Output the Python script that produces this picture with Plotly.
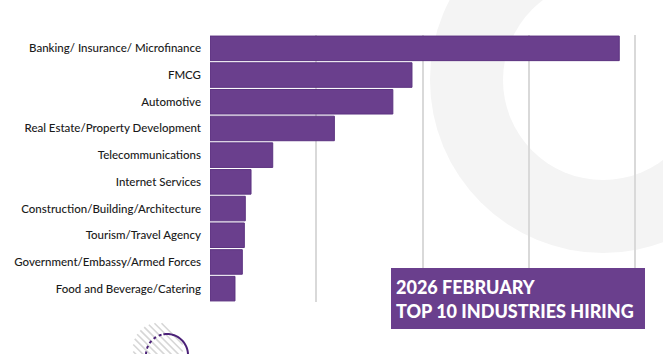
import math
import plotly.graph_objects as go

industries = [
    "Banking/ Insurance/ Microfinance",
    "FMCG",
    "Automotive",
    "Real Estate/Property Development",
    "Telecommunications",
    "Internet Services",
    "Construction/Building/Architecture",
    "Tourism/Travel Agency",
    "Government/Embassy/Armed Forces",
    "Food and Beverage/Catering",
]
hires = [385, 190, 172, 117, 59, 38.6, 33.2, 32.3, 30.4, 23.5]
title_lines = ["2026 FEBRUARY", "TOP 10 INDUSTRIES HIRING"]

W, H = 663, 354
L, R, T, B = 210, 0, 35, 52
PW, PH = W - L - R, H - T - B
PURPLE = "#6a3f8d"


def px(x):
    return (x - L) / PW


def py(y):
    return (H - B - y) / PH


fig = go.Figure(go.Bar(
    x=hires, y=industries, orientation="h",
    marker=dict(color=PURPLE, line=dict(color="#5c3380", width=1)),
    hoverinfo="skip",
))

shapes = []
# decorative ring (top right)
shapes.append(dict(type="circle", xref="paper", yref="paper", layer="below",
                   x0=px(430), x1=px(776), y0=py(253), y1=py(-93),
                   fillcolor="#f4f4f4", line=dict(width=0)))
shapes.append(dict(type="circle", xref="paper", yref="paper", layer="below",
                   x0=px(503), x1=px(703), y0=py(180), y1=py(-20),
                   fillcolor="white", line=dict(width=0)))
# hatched circle bottom left
hcx, hcy, hr = 158, 348, 25
for k in range(-9, 10):
    c = k * 5.0
    if abs(c) >= hr:
        continue
    half = math.sqrt(hr * hr - c * c)
    nx, ny = 1 / math.sqrt(2), -1 / math.sqrt(2)
    dx, dy = 1 / math.sqrt(2), 1 / math.sqrt(2)
    x0 = hcx + nx * c - dx * half
    y0 = hcy + ny * c - dy * half
    x1 = hcx + nx * c + dx * half
    y1 = hcy + ny * c + dy * half
    shapes.append(dict(type="line", xref="paper", yref="paper", layer="below",
                       x0=px(x0), y0=py(y0), x1=px(x1), y1=py(y1),
                       line=dict(color="#d6d6d6", width=1.6)))
# purple circle: dotted left part, solid right part
pcx, pcy, pr = 167, 355, 21
pts_dot = []
for i in range(0, 61):
    a = math.radians(90 + i * 1.5 + 15)
    pts_dot.append((pcx + pr * math.cos(a), pcy - pr * math.sin(a)))
path = "M " + " L ".join(f"{px(x):.5f},{py(y):.5f}" for x, y in pts_dot)
shapes.append(dict(type="path", xref="paper", yref="paper", path=path,
                   line=dict(color="#4b2178", width=2, dash="dot")))
pts_sol = []
for i in range(0, 41):
    a = math.radians(-20 + i * 3.0)
    pts_sol.append((pcx + pr * math.cos(a), pcy - pr * math.sin(a)))
path = "M " + " L ".join(f"{px(x):.5f},{py(y):.5f}" for x, y in pts_sol)
shapes.append(dict(type="path", xref="paper", yref="paper", path=path,
                   line=dict(color="#4b2178", width=2)))
# title box
shapes.append(dict(type="rect", xref="paper", yref="paper", layer="above",
                   x0=px(391), x1=px(645), y0=py(329), y1=py(268),
                   fillcolor=PURPLE, line=dict(width=0)))

annotations = [
    dict(text=title_lines[0], xref="paper", yref="paper",
         x=px(394), y=py(287), xanchor="left", yanchor="middle", showarrow=False,
         font=dict(family="Lato", size=18, color="white", weight=900)),
    dict(text=title_lines[1], xref="paper", yref="paper",
         x=px(394), y=py(311), xanchor="left", yanchor="middle", showarrow=False,
         font=dict(family="Lato", size=18, color="white", weight=900)),
]

fig.update_layout(
    width=W, height=H, margin=dict(l=L, r=R, t=T, b=B),
    paper_bgcolor="white", plot_bgcolor="rgba(0,0,0,0)",
    showlegend=False, bargap=0.08,
    shapes=shapes, annotations=annotations,
    font=dict(family="Lato", size=12, color="#1a1a1a"),
)
fig.update_xaxes(range=[0, PW / 1.063], tickvals=[100, 200, 300, 400],
                 showticklabels=False, showgrid=True, gridcolor="#d9d9d9",
                 gridwidth=1.5, zeroline=False, showline=False, fixedrange=True)
fig.update_yaxes(autorange="reversed", showgrid=False, zeroline=False,
                 showline=False, ticks="", ticklabelstandoff=8,
                 tickfont=dict(family="Lato", size=11.5, color="#1a1a1a", weight=500))

fig.write_html("out.html")
